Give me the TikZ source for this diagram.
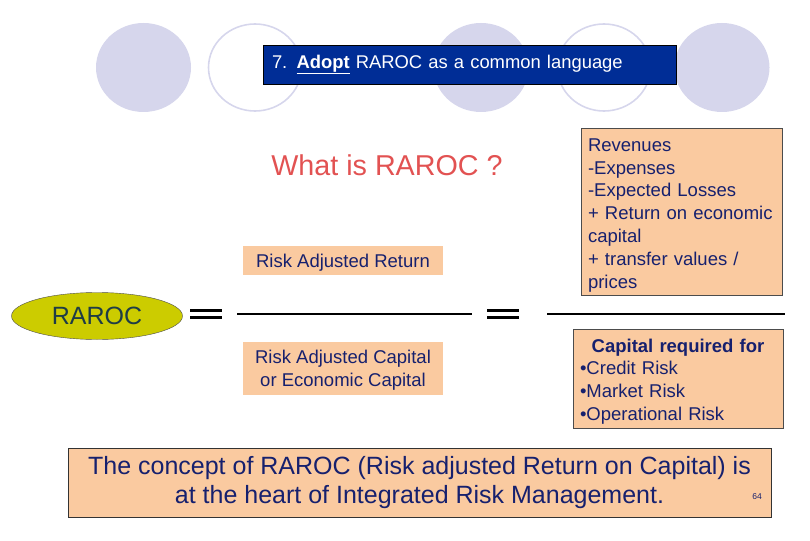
\documentclass[tikz,border=0pt]{standalone}
\usepackage{fontspec}
\setmainfont{Liberation Sans}
\usepackage{tikz}
\usetikzlibrary{positioning,shapes.geometric}
\definecolor{discfill}{RGB}{214,214,236}
\definecolor{titleblue}{RGB}{0,45,150}
\definecolor{peach}{RGB}{250,202,160}
\definecolor{inknavy}{RGB}{22,32,110}
\definecolor{askred}{RGB}{226,82,82}
\definecolor{olive}{RGB}{204,204,0}
\definecolor{rarocink}{RGB}{30,60,70}

\begin{document}
\begin{tikzpicture}[x=1pt,y=-1pt,
    disc/.style={ellipse,fill=discfill,minimum width=95pt,minimum height=89pt,inner sep=0pt},
    ring/.style={ellipse,draw=discfill,line width=1.6pt,minimum width=93pt,minimum height=87pt,inner sep=0pt},
    termbox/.style={fill=peach,minimum width=200pt,align=center,inner sep=0pt,text depth=0pt,text=inknavy,font=\fontsize{18.5}{22.5}\selectfont},
    listbox/.style={draw=black!70,fill=peach,inner xsep=7pt,inner ysep=0pt,align=left,text=inknavy,font=\fontsize{18.5}{22.8}\selectfont},
    eqbar/.style={line width=3pt}]
    \useasboundingbox (0,0) rectangle (810,540);
    % background circles
    \foreach \n/\x in {1/143.5,3/481,5/722}{\node[disc] (d\n) at (\x,67.5) {};}
    \foreach \n/\x in {2/255,4/604}{\node[ring] (d\n) at (\x,67.5) {};}
    \node[draw=black,fill=titleblue,text=white,minimum width=413pt,minimum height=39pt,inner xsep=9pt,
      text width=395pt,align=left,font=\fontsize{18.4}{22}\selectfont] (title) at (469.5,64.5)
      {7. \underline{\textbf{Adopt}} RAROC as a common language};
    \node[text=askred,font=\fontsize{28.7}{32}\selectfont] (question) at (387,165) {What is RAROC ?};
    % fraction
    \node[termbox,minimum height=29pt] (retbox) at (343,260.5) {Risk Adjusted Return};
    \node[termbox,minimum height=53pt] (capbox) at (343,368.5) {Risk Adjusted Capital\\or Economic Capital};
    \node[ellipse,draw=black!70,fill=olive,minimum width=171pt,minimum height=47pt,inner sep=0pt,
      text=rarocink,font=\fontsize{25}{28}\selectfont] (raroc) at (97,316) {RAROC};
    \coordinate (la) at (237,314); \coordinate (lb) at (472,314);
    \coordinate (ra) at (547,314); \coordinate (rb) at (785,314);
    \draw[line width=2.6pt] (la) -- (lb);
    \draw[line width=2.6pt] (ra) -- (rb);
    \foreach \x in {190,487}{
      \draw[eqbar] (\x,310.5) -- ++(32,0);
      \draw[eqbar] (\x,317.5) -- ++(32,0);}
    \node[listbox,minimum width=201pt,minimum height=167pt,text width=187pt] (revbox) at (681.5,211.5)
      {\rule{0pt}{20.3pt}Revenues\\-Expenses\\-Expected Losses\\+ Return on economic\\capital\\+ transfer values /\\prices};
    \node[listbox,minimum width=210pt,minimum height=99pt,text width=196pt] (reqbox) at (678,378.5)
      {\rule{0pt}{19.5pt}\makebox[196pt]{\bfseries Capital required for}\\•Credit Risk\\•Market Risk\\•Operational Risk};
    % closing note
    \node[draw=black!80,fill=peach,minimum width=703pt,minimum height=69pt,align=center,text=inknavy,
      font=\fontsize{25}{29}\selectfont] (note) at (419.5,482.5)
      {The concept of RAROC (Risk adjusted Return on Capital) is\\at the heart of Integrated Risk Management.};
    \node[text=inknavy,font=\fontsize{8.5}{10}\selectfont,inner sep=0pt] (pagenum) at (757,497) {64};
  \end{tikzpicture}
\end{document}
